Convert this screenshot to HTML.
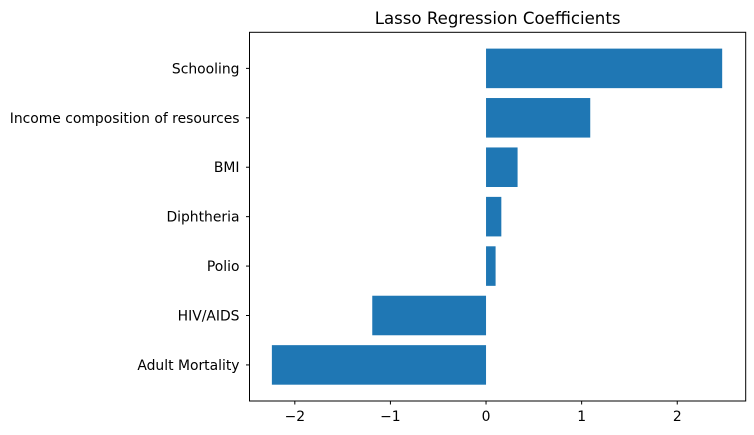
<!DOCTYPE html>
<html><head><meta charset="utf-8"><style>
body{margin:0;background:#fff}
svg{display:block;font-family:"DejaVu Sans","Liberation Sans",sans-serif}
</style></head><body>
<svg id="chart" width="754" height="435">
<text x="497.6" y="24" text-anchor="middle" font-size="16.6" fill="#000">Lasso Regression Coefficients</text>
<g id="bars"></g>
<g id="yaxis"></g>
<g id="xaxis"></g>
<rect x="249.5" y="32.3" width="496.2" height="368.7" fill="none" stroke="#000" stroke-width="1"/>
</svg>
<script>
const categories=["Adult Mortality","HIV/AIDS","Polio","Diphtheria","BMI","Income composition of resources","Schooling"];
const coefficients=[-2.24,-1.19,0.10,0.16,0.33,1.09,2.47];
const xTicks=[-2,-1,0,1,2];
const xTickLabels=["\u22122","\u22121","0","1","2"];
const L=249.5,R=745.7,T=32.3,B=401;
const xmin=-2.474,xmax=2.716,ymin=-0.73,ymax=6.73;
const sx=v=>L+(v-xmin)/(xmax-xmin)*(R-L);
const sy=i=>B-(i-ymin)/(ymax-ymin)*(B-T);
const ns="http://www.w3.org/2000/svg";
const bars=document.getElementById('bars'),ya=document.getElementById('yaxis'),xa=document.getElementById('xaxis');
const bh=0.8*(sy(0)-sy(1));
categories.forEach((c,i)=>{
  const v=coefficients[i];
  const r=document.createElementNS(ns,'rect');
  
  
  r.setAttribute('x',Math.min(sx(0),sx(v)));
  r.setAttribute('width',Math.abs(sx(v)-sx(0)));
  r.setAttribute('y',sy(i)-bh/2);r.setAttribute('height',bh);
  r.setAttribute('fill','#1f77b4');bars.appendChild(r);
  const t=document.createElementNS(ns,'line');
  
  
  t.setAttribute('x1',L-3.5);t.setAttribute('x2',L);t.setAttribute('y1',sy(i));t.setAttribute('y2',sy(i));t.setAttribute('stroke','#000');ya.appendChild(t);
  const tx=document.createElementNS(ns,'text');
  
  
  tx.setAttribute('x',L-10);tx.setAttribute('y',sy(i)+5);tx.setAttribute('text-anchor','end');tx.setAttribute('font-size','13.9');tx.textContent=c;ya.appendChild(tx);
});
xTicks.forEach((v,k)=>{
  const t=document.createElementNS(ns,'line');
  
  
  t.setAttribute('x1',sx(v));t.setAttribute('x2',sx(v));t.setAttribute('y1',B);t.setAttribute('y2',B+3.5);t.setAttribute('stroke','#000');xa.appendChild(t);
  const tx=document.createElementNS(ns,'text');
  
  
  tx.setAttribute('x',sx(v));tx.setAttribute('y',B+20);tx.setAttribute('text-anchor','middle');tx.setAttribute('font-size','13.9');tx.textContent=xTickLabels[k];xa.appendChild(tx);
});
</script>
</body></html>
